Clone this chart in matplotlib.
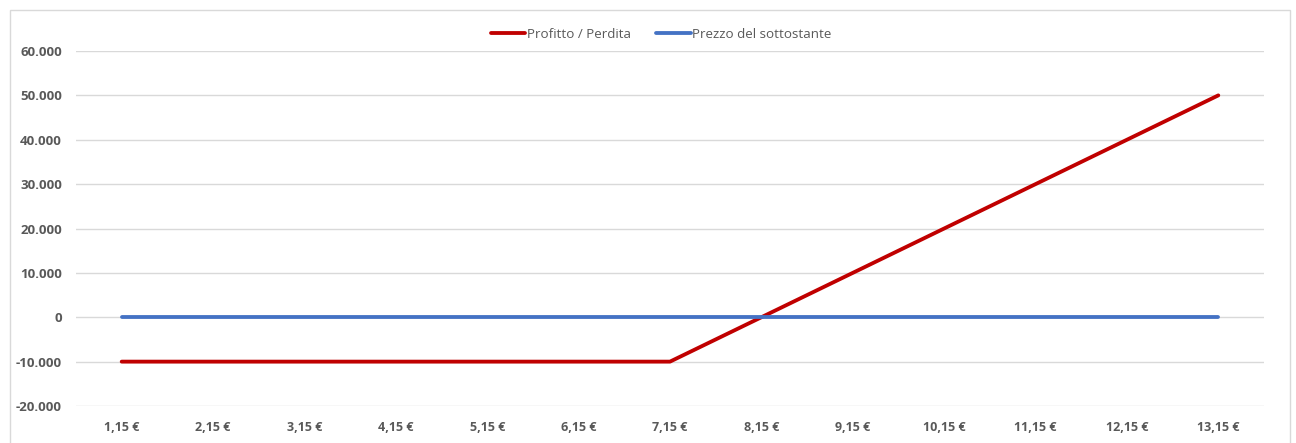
import matplotlib
matplotlib.use('Agg')
import matplotlib.pyplot as plt
from matplotlib.patches import Rectangle

# Data
prices = ['1,15 €', '2,15 €', '3,15 €', '4,15 €', '5,15 €', '6,15 €', '7,15 €',
          '8,15 €', '9,15 €', '10,15 €', '11,15 €', '12,15 €', '13,15 €']
profit_loss = [-10000, -10000, -10000, -10000, -10000, -10000, -10000,
               0, 10000, 20000, 30000, 40000, 50000]
underlying = [0] * 13
y_ticks = [-20000, -10000, 0, 10000, 20000, 30000, 40000, 50000, 60000]

plt.rcParams['font.family'] = ['Open Sans', 'DejaVu Sans']

fig = plt.figure(figsize=(12.96, 4.43), dpi=100)
ax = fig.add_axes([76 / 1296, 37 / 443, (1264 - 76) / 1296, (406 - 51) / 443])

# chart area border
fig.patches.append(Rectangle((10 / 1296, -0.01), 1280 / 1296, 1 - 10 / 443 + 0.01,
                             transform=fig.transFigure, fill=False,
                             edgecolor='#D9D9D9', linewidth=1))

x = list(range(len(prices)))
ax.plot(x, profit_loss, color='#C00000', linewidth=2.75, label='Profitto / Perdita',
        solid_capstyle='round', zorder=3)
ax.plot(x, underlying, color='#4472C4', linewidth=2.75, label='Prezzo del sottostante',
        solid_capstyle='round', zorder=3)

ax.set_xlim(-0.5, len(prices) - 0.5)
ax.set_ylim(-20000, 60000)
ax.set_yticks(y_ticks)
ax.set_yticklabels(['{:,}'.format(v).replace(',', '.') for v in y_ticks],
                   fontsize=9.5, color='#595959', fontweight='bold')
ax.set_xticks(x)
ax.set_xticklabels(prices, fontsize=9, color='#595959', fontweight='bold')
ax.tick_params(length=0)
ax.tick_params(axis='x', pad=11)
ax.tick_params(axis='y', pad=10)

ax.grid(axis='y', color='#D9D9D9', linewidth=1)
ax.set_axisbelow(True)
for s in ax.spines.values():
    s.set_visible(False)

fig.legend(loc='center', bbox_to_anchor=(661 / 1296, 1 - 34 / 443), ncol=2, frameon=False,
           fontsize=9.6, labelcolor='#595959', handlelength=2.6, columnspacing=1.9,
           handletextpad=0.1)

fig.savefig('out.png', dpi=100)
